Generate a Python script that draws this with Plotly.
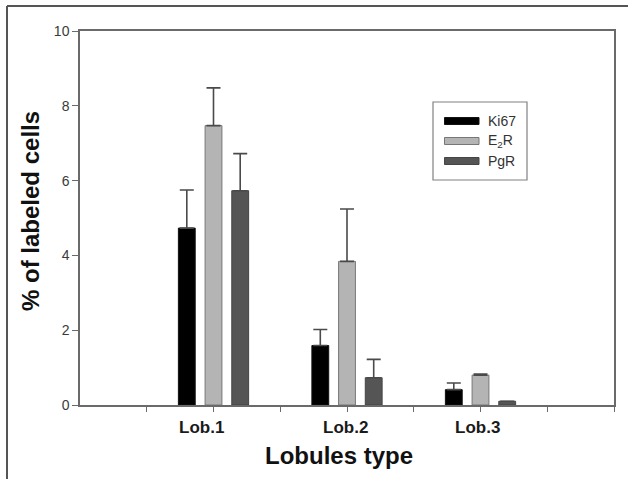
import plotly.graph_objects as go

# Lobule categories and measured percentages (mean + upper SD)
categories = ["Lob.1", "Lob.2", "Lob.3"]
cat_pos = [1, 2, 3]
ki67 = [4.73, 1.59, 0.41]
ki67_err = [1.02, 0.43, 0.18]
e2r = [7.47, 3.84, 0.80]
e2r_err = [1.01, 1.40, 0.03]
pgr = [5.73, 0.73, 0.10]
pgr_err = [0.99, 0.49, 0.0]
y_ticks = [0, 2, 4, 6, 8, 10]

# Figure geometry (pixels)
W, H = 628, 479
ML, MR, MT, MB = 80, 14, 31, 74
PW, PH = W - ML - MR, H - MT - MB


def px(x):
    return (x - ML) / PW


def py(y):
    return (H - MB - y) / PH


FONT = "Liberation Sans, Arial, sans-serif"
AX = "#6a6a6a"

series = [
    ("Ki67", ki67, ki67_err, "#000000", "#111111", -0.20),
    ("E<sub>2</sub>R", e2r, e2r_err, "#b4b4b4", "#777777", 0.0),
    ("PgR", pgr, pgr_err, "#555555", "#444444", 0.20),
]

fig = go.Figure()
bar_w = 0.126
for name, vals, errs, fill, edge, shift in series:
    fig.add_trace(go.Bar(
        x=cat_pos, y=vals, name=name,
        width=bar_w, offset=shift - bar_w / 2,
        marker=dict(color=fill, line=dict(color=edge, width=1)),
        error_y=dict(type="data", array=errs, symmetric=False,
                     arrayminus=[0] * len(errs),
                     color="#4a4a4a", thickness=1.6, width=7),
        showlegend=False,
    ))

x_ticks = [0.5 * k for k in range(1, 9)]
fig.update_xaxes(
    range=[0, 4], tickmode="array", tickvals=x_ticks,
    showticklabels=False,
    ticks="outside", ticklen=5, tickwidth=1.3, tickcolor=AX,
    showline=True, linecolor=AX, linewidth=1.5, mirror=True,
    showgrid=False, zeroline=False,
)
fig.update_yaxes(
    range=[0, 10], tickmode="array", tickvals=y_ticks,
    ticks="outside", ticklen=6, tickwidth=1.3, tickcolor=AX,
    tickfont=dict(family=FONT, size=14, color="#3a3a3a"),
    showline=True, linecolor=AX, linewidth=1.5, mirror=True,
    showgrid=False, zeroline=False,
)

annotations = []
# Category labels under the x axis
label_shift = [-12, -2, -3]
for pos, lab, sh in zip(cat_pos, categories, label_shift):
    annotations.append(dict(
        x=pos, xref="x", y=py(427), yref="paper", text=f"<b>{lab}</b>",
        showarrow=False, xanchor="center", yanchor="middle", xshift=sh,
        font=dict(family=FONT, size=17, color="#1a1a1a"),
    ))
# Axis titles
annotations.append(dict(
    x=px(339), y=py(456), xref="paper", yref="paper",
    text="<b>Lobules type</b>", showarrow=False,
    xanchor="center", yanchor="middle",
    font=dict(family=FONT, size=24, color="#111111"),
))
annotations.append(dict(
    x=px(30), y=py(211), xref="paper", yref="paper",
    text="<b>% of labeled cells</b>", showarrow=False, textangle=-90,
    xanchor="center", yanchor="middle",
    font=dict(family=FONT, size=24, color="#111111"),
))

shapes = []
# Outer partial frame (top and left edges)
shapes.append(dict(type="line", xref="paper", yref="paper",
                   x0=px(7), x1=px(W + 5), y0=py(6), y1=py(6),
                   line=dict(color="#555555", width=2)))
shapes.append(dict(type="line", xref="paper", yref="paper",
                   x0=px(7), x1=px(7), y0=py(6), y1=py(H + 5),
                   line=dict(color="#555555", width=2)))

# Legend box
shapes.append(dict(type="rect", xref="paper", yref="paper",
                   x0=px(433), x1=px(527), y0=py(102), y1=py(180),
                   line=dict(color="#808080", width=1.2),
                   fillcolor="rgba(0,0,0,0)"))
legend_rows = [121, 141, 161]
for (name, vals, errs, fill, edge, shift), yc in zip(series, legend_rows):
    shapes.append(dict(type="rect", xref="paper", yref="paper",
                       x0=px(444.5), x1=px(479), y0=py(yc - 3.5), y1=py(yc + 3.5),
                       line=dict(color=edge, width=1), fillcolor=fill))
    annotations.append(dict(
        x=px(486), y=py(yc), xref="paper", yref="paper", text=name,
        showarrow=False, xanchor="left", yanchor="middle",
        font=dict(family=FONT, size=14, color="#333333"),
    ))

fig.update_layout(
    width=W, height=H,
    margin=dict(l=ML, r=MR, t=MT, b=MB),
    paper_bgcolor="white", plot_bgcolor="white",
    barmode="overlay",
    annotations=annotations, shapes=shapes,
    showlegend=False,
)

fig.write_html("out.html")
